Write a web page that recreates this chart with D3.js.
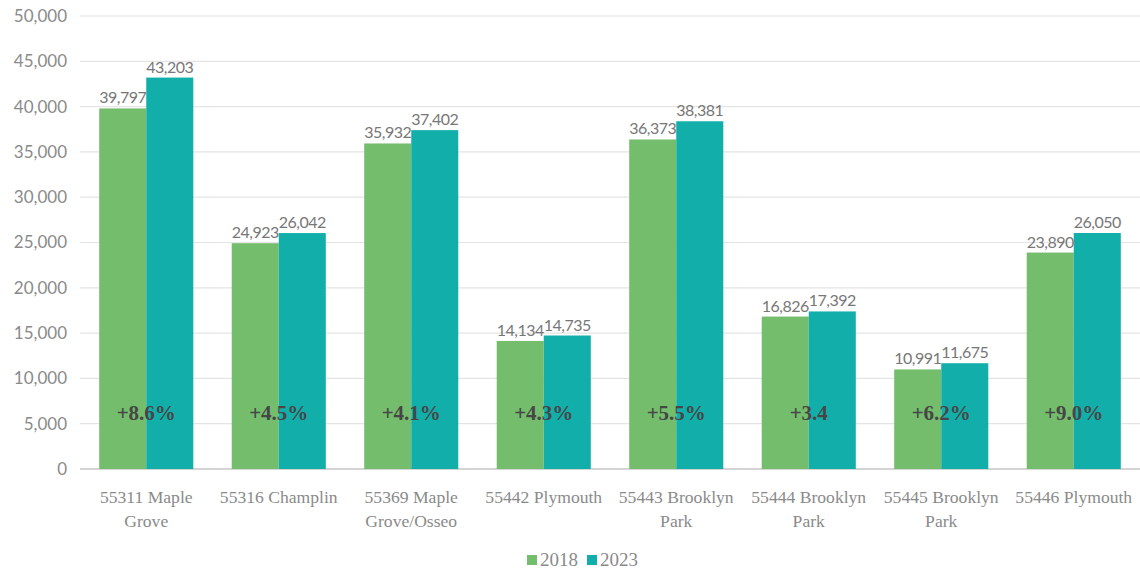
<!DOCTYPE html>
<html>
<head>
<meta charset="utf-8">
<script src="https://cdn.jsdelivr.net/npm/d3@7"></script>
<style>
  body { margin: 0; background: #fff; }
  svg { display: block; }
</style>
</head>
<body>
<svg id="svg" width="1140" height="577"></svg>
<script>
const categories = [
  ["55311 Maple", "Grove"],
  ["55316 Champlin"],
  ["55369 Maple", "Grove/Osseo"],
  ["55442 Plymouth"],
  ["55443 Brooklyn", "Park"],
  ["55444 Brooklyn", "Park"],
  ["55445 Brooklyn", "Park"],
  ["55446 Plymouth"]
]
const years = ["2018", "2023"]
const values2018 = [39797, 24923, 35932, 14134, 36373, 16826, 10991, 23890]
const values2023 = [43203, 26042, 37402, 14735, 38381, 17392, 11675, 26050]
const changeLabels = ["+8.6%", "+4.5%", "+4.1%", "+4.3%", "+5.5%", "+3.4", "+6.2%", "+9.0%"]
const yTicks = [0, 5000, 10000, 15000, 20000, 25000, 30000, 35000, 40000, 45000, 50000]
const colors = ["#74bd6d", "#12afaa"]

const svg = d3.select('#svg')
const plotLeft = 80, plotRight = 1140, plotTop = 16, plotBottom = 469

const x = d3.scaleBand().domain(d3.range(categories.length)).range([plotLeft, plotRight]).paddingInner(0.29).paddingOuter(0.145)
const xSub = d3.scaleBand().domain(years).range([0, x.bandwidth()])
const y = d3.scaleLinear().domain([0, 50000]).range([plotBottom, plotTop])

// gridlines
svg.append('g')
  .selectAll('line')
  .data(yTicks)
  .enter()
  .append('line')
  .attr('x1', plotLeft).attr('x2', plotRight)
  .attr('y1', d => y(d)).attr('y2', d => y(d))
  .attr('stroke', d => d === 0 ? '#d4d4d4' : '#e4e4e4')
  .attr('stroke-width', d => d === 0 ? 2 : 1.2)

// y axis labels
const yAxis = d3.axisLeft(y).tickValues(yTicks).tickFormat(d3.format(',')).tickSize(0).tickPadding(13)
const ya = svg.append('g').attr('transform', `translate(${plotLeft},0)`).call(yAxis)
ya.select('.domain').remove()
ya.selectAll('text')
  .attr('fill', '#8a8a8a')
  .style('font-family', 'Lato, sans-serif')
  .style('font-size', '17px')

const rows = categories.map((c, i) => ({i, vals: [values2018[i], values2023[i]]}))

const groups = svg.append('g')
  .selectAll('g')
  .data(rows)
  .enter()
  .append('g')
  .attr('transform', d => `translate(${x(d.i)},0)`)

groups.selectAll('rect')
  .data(d => d.vals.map((v, k) => ({v, k})))
  .enter()
  .append('rect')
  .attr('x', d => xSub(years[d.k]))
  .attr('width', xSub.bandwidth())
  .attr('y', d => y(d.v))
  .attr('height', d => y(0) - y(d.v))
  .attr('fill', d => colors[d.k])

groups.selectAll('text.val')
  .data(d => d.vals.map((v, k) => ({v, k})))
  .enter()
  .append('text')
  .attr('class', 'val')
  .attr('x', d => xSub(years[d.k]) + xSub.bandwidth() / 2)
  .attr('y', d => y(d.v) - 5)
  .attr('text-anchor', 'middle')
  .attr('fill', '#777')
  .style('font-family', 'Lato, sans-serif')
  .style('font-size', '16px')
  .style('letter-spacing', '-0.5px')
  .text(d => d3.format(',')(d.v))

groups.append('text')
  .attr('x', x.bandwidth() / 2)
  .attr('y', 420)
  .attr('text-anchor', 'middle')
  .attr('fill', '#464646')
  .style('font-family', '"Liberation Serif", serif')
  .style('font-weight', 'bold')
  .style('font-size', '21px')
  .text(d => changeLabels[d.i])

// category labels
groups.append('text')
  .attr('text-anchor', 'middle')
  .attr('fill', '#8a8a8a')
  .style('font-family', '"Liberation Serif", serif')
  .style('font-size', '17.6px')
  .selectAll('tspan')
  .data(d => categories[d.i])
  .enter()
  .append('tspan')
  .attr('x', x.bandwidth() / 2)
  .attr('y', (d, j) => 503 + j * 24)
  .text(d => d)

// legend
const legend = svg.append('g').attr('transform', 'translate(527,566)')
const items = legend.selectAll('g')
  .data(years)
  .enter()
  .append('g')
  .attr('transform', (d, k) => `translate(${k * 60},0)`)
items.append('rect')
  .attr('x', 0).attr('y', -11).attr('width', 10).attr('height', 10)
  .attr('fill', (d, k) => colors[k])
items.append('text')
  .attr('x', 13).attr('y', 0)
  .attr('fill', '#8a8a8a')
  .style('font-family', '"Liberation Serif", serif')
  .style('font-size', '19px')
  .text(d => d)
</script>
</body>
</html>
